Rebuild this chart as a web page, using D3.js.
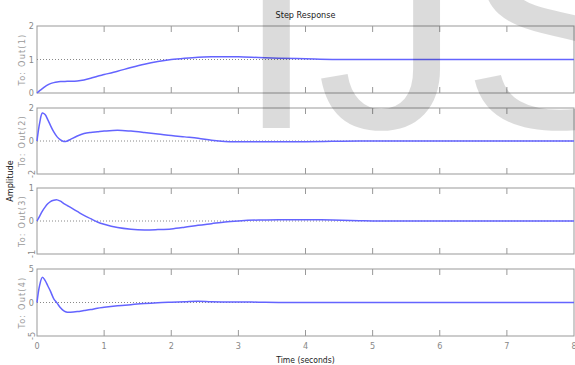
<!DOCTYPE html>
<html><head><meta charset="utf-8">
<script src="https://cdn.jsdelivr.net/npm/d3@7"></script>
<style>body{margin:0;background:#fff}svg{display:block}</style>
</head><body>
<script>
const title = "Step Response";
const xLabel = "Time (seconds)";
const yLabel = "Amplitude";
const outputs = ["To: Out(1)", "To: Out(2)", "To: Out(3)", "To: Out(4)"];
const xTicks = [0,1,2,3,4,5,6,7,8];
const yDomains = [[0,2],[-2,2],[-1,1],[-5,5]];
const yTicks = [[0,1,2],[-2,0,2],[-1,0,1],[-5,0,5]];
const finalValues = [1,0,0,0];
const time = [0,0.04,0.08,0.12,0.16,0.2,0.25,0.3,0.35,0.4,0.45,0.5,0.6,0.7,0.8,0.9,1.0,1.2,1.4,1.6,1.8,2.0,2.2,2.4,2.6,2.8,3.0,3.3,3.6,4.0,4.4,4.8,5,6,7,8];
const out1 = [0,0.07,0.13,0.19,0.24,0.28,0.31,0.33,0.34,0.345,0.35,0.35,0.36,0.39,0.44,0.5,0.55,0.65,0.76,0.86,0.94,1.0,1.04,1.07,1.08,1.08,1.08,1.06,1.04,1.02,1.0,1.0,1,1,1,1];
const out2 = [0,1.1,1.7,1.6,1.3,0.95,0.55,0.25,0.07,-0.03,0.0,0.1,0.3,0.45,0.52,0.56,0.6,0.65,0.6,0.52,0.43,0.33,0.25,0.17,0.05,-0.03,-0.05,-0.05,-0.05,-0.04,-0.02,0,0,0,0,0];
const out3 = [0,0.15,0.3,0.42,0.52,0.59,0.63,0.64,0.6,0.53,0.47,0.41,0.29,0.17,0.07,-0.03,-0.1,-0.2,-0.25,-0.27,-0.26,-0.24,-0.19,-0.13,-0.08,-0.03,0.0,0.03,0.04,0.04,0.03,0.01,0,0,0,0];
const out4 = [0,2.6,3.75,3.3,2.5,1.7,0.55,-0.1,-0.8,-1.25,-1.45,-1.45,-1.35,-1.2,-1.05,-0.85,-0.72,-0.5,-0.32,-0.15,-0.03,0.05,0.12,0.2,0.1,0.08,0.08,0.05,0,0,0,0,0,0,0,0];
const series = [out1,out2,out3,out4];

const W = 575, H = 365;
const font = "'Liberation Sans Narrow','DejaVu Sans Condensed','Liberation Sans',Arial,sans-serif";
const svg = d3.select("body").append("svg").attr("width", W).attr("height", H);
const x = d3.scaleLinear().domain([0,8]).range([37,574]);
const panels = [[26,93],[108,174],[188,254],[269,336]];

panels.forEach((p, i) => {
  const y = d3.scaleLinear().domain(yDomains[i]).range([p[1], p[0]]);
  const g = svg.append("g");
  g.append("rect").attr("x", x(0)).attr("y", p[0]).attr("width", x(8)-x(0)).attr("height", p[1]-p[0])
    .attr("fill", "none").attr("stroke", "#999").attr("stroke-width", 1);
  xTicks.slice(1, -1).forEach(t => {
    g.append("line").attr("x1", x(t)).attr("x2", x(t)).attr("y1", p[0]).attr("y2", p[0]+6).attr("stroke", "#999");
    g.append("line").attr("x1", x(t)).attr("x2", x(t)).attr("y1", p[1]).attr("y2", p[1]-6).attr("stroke", "#999");
  });
  g.append("line").attr("x1", x(0)).attr("x2", x(8)).attr("y1", y(finalValues[i])).attr("y2", y(finalValues[i]))
    .attr("stroke", "#888").attr("stroke-dasharray", "1,2");
  yTicks[i].forEach(v => {
    const t = g.append("text").attr("font-family", font).attr("font-size", 9).attr("fill", "#888");
    if (v < 0) {
      t.attr("transform", `translate(32,${y(v)}) rotate(-90)`).attr("text-anchor", "middle").attr("dy", "0.35em").text(v);
    } else {
      t.attr("x", 34).attr("y", y(v)).attr("text-anchor", "end").attr("dy", "0.35em").text(v);
    }
  });
  g.append("text").attr("transform", `translate(25,${(p[0]+p[1])/2}) rotate(-90)`)
    .attr("text-anchor", "middle").attr("font-family", font).attr("font-size", 9)
    .attr("letter-spacing", 1.2).attr("fill", "#999").text(outputs[i]);
  const line = d3.line().x(d => x(d[0])).y(d => y(d[1])).curve(d3.curveCatmullRom.alpha(0.5));
  g.append("path").datum(time.map((t, k) => [t, series[i][k]]))
    .attr("d", line).attr("fill", "none").attr("stroke", "#6464ff").attr("stroke-width", 1.5);
});

svg.append("g").selectAll("text").data(xTicks).join("text")
  .attr("x", d => x(d)).attr("y", 349).attr("text-anchor", "middle")
  .attr("font-family", font).attr("font-size", 9).attr("fill", "#888").text(d => d);

svg.append("text").attr("x", (x(0)+x(8))/2).attr("y", 18).attr("text-anchor", "middle")
  .attr("font-family", font).attr("font-size", 9).attr("fill", "#222").text(title);
svg.append("text").attr("x", (x(0)+x(8))/2).attr("y", 363).attr("text-anchor", "middle")
  .attr("font-family", font).attr("font-size", 8.5).attr("fill", "#222").text(xLabel);
svg.append("text").attr("transform", `translate(13,181) rotate(-90)`).attr("text-anchor", "middle")
  .attr("font-family", font).attr("font-size", 9).attr("fill", "#222").text(yLabel);

svg.append("text").attr("x", 236).attr("y", 128).attr("font-family", "'Liberation Sans',Arial,sans-serif")
  .attr("font-size", 290).attr("fill", "#000").attr("fill-opacity", 0.14).text("IJS");
</script>
</body></html>
